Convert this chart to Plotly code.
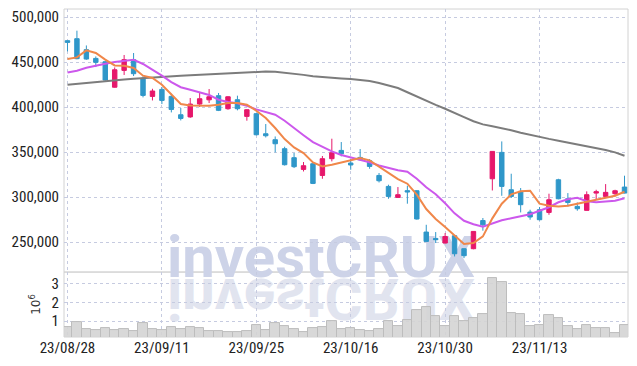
import plotly.graph_objects as go

dates = ["2023-08-28", "2023-08-29", "2023-08-30", "2023-08-31", "2023-09-01",
         "2023-09-04", "2023-09-05", "2023-09-06", "2023-09-07", "2023-09-08",
         "2023-09-11", "2023-09-12", "2023-09-13", "2023-09-14", "2023-09-15",
         "2023-09-18", "2023-09-19", "2023-09-20", "2023-09-21", "2023-09-22",
         "2023-09-25", "2023-09-26", "2023-09-27", "2023-10-04", "2023-10-05",
         "2023-10-06", "2023-10-10", "2023-10-11", "2023-10-12", "2023-10-13",
         "2023-10-16", "2023-10-17", "2023-10-18", "2023-10-19", "2023-10-20",
         "2023-10-23", "2023-10-24", "2023-10-25", "2023-10-26", "2023-10-27",
         "2023-10-30", "2023-10-31", "2023-11-01", "2023-11-02", "2023-11-03",
         "2023-11-06", "2023-11-07", "2023-11-08", "2023-11-09", "2023-11-10",
         "2023-11-13", "2023-11-14", "2023-11-15", "2023-11-16", "2023-11-17",
         "2023-11-20", "2023-11-21", "2023-11-22", "2023-11-23", "2023-11-24"]

opens = [473700, 475900, 463700, 454000, 450300, 422000, 440700, 452600, 432000, 411800,
         419600, 411800, 391400, 389000, 403300, 408000, 412600, 398100, 408100, 389600,
         392600, 370300, 363700, 353700, 343700, 330700, 337000, 324000, 342600, 351800,
         337800, 344000, 340300, 324000, 311800, 299600, 307100, 307000, 261100, 254000,
         248900, 257000, 242600, 242600, 273900, 320300, 349600, 308100, 306300, 283300,
         285900, 282900, 319200, 298100, 289600, 285200, 304400, 300700, 303700, 311100]
highs = [473700, 484800, 468400, 456200, 451000, 444000, 457800, 460000, 434000, 420300,
         422200, 414800, 398900, 410000, 416000, 420000, 415600, 412000, 412600, 397500,
         393000, 381100, 367300, 355900, 348900, 338900, 338900, 345600, 364800, 361100,
         342600, 353300, 342200, 326700, 313700, 311100, 312600, 307500, 269200, 261100,
         260000, 257500, 243000, 262000, 276700, 351000, 361800, 325900, 310000, 285900,
         288900, 303700, 320300, 304400, 294000, 306300, 308100, 314400, 308100, 323700]
lows = [461800, 453000, 452500, 444400, 429000, 421500, 435600, 434400, 410700, 407300,
        403300, 394000, 385100, 388000, 400000, 404400, 395500, 397000, 396300, 384800,
        368500, 366200, 349600, 335000, 332200, 328400, 314400, 320300, 339600, 345200,
        330300, 340400, 331400, 316200, 298100, 298900, 292600, 275000, 250500, 248900,
        248500, 234000, 232200, 242000, 262600, 307300, 301400, 298900, 282900, 274800,
        274000, 280300, 297500, 289600, 284800, 285000, 297000, 299600, 300700, 304000]
closes = [471800, 453700, 453300, 449600, 430000, 441400, 452600, 437000, 412900, 417800,
          407300, 397300, 387300, 403300, 409200, 411400, 396300, 411400, 398100, 397000,
          369200, 368100, 359200, 335900, 333700, 334800, 315100, 342600, 349200, 348100,
          335600, 341500, 334000, 318100, 300700, 302600, 305600, 275600, 250700, 252600,
          256200, 237000, 234800, 261800, 269100, 350700, 311800, 300700, 291500, 277800,
          274800, 297000, 298100, 294000, 287000, 302600, 305900, 305200, 307000, 304400]

ma5 = [453300, 455100, 462900, 460000, 452600, 446200, 445900, 443300, 434800, 432200,
       424800, 413700, 403300, 401800, 401400, 401400, 402600, 404400, 404400, 402600,
       395900, 387800, 376700, 364400, 355100, 348900, 338400, 334000, 335900, 338100,
       340300, 343300, 340700, 334000, 326700, 320000, 314800, 302600, 286700, 275600,
       266700, 257000, 247800, 248900, 256300, 276300, 292600, 303000, 306400, 307000,
       292600, 290300, 289600, 290300, 292600, 295300, 297600, 299200, 301400, 305900]
ma20 = [438400, 440300, 443600, 446200, 448100, 450000, 451400, 452600, 447800, 441400,
        434800, 427600, 422000, 419200, 416400, 413400, 408100, 405600, 404100, 401400,
        397400, 394800, 391400, 384800, 376300, 368700, 361000, 355900, 350700, 346700,
        343900, 341800, 338600, 335100, 332200, 329800, 328100, 320300, 310800, 303100,
        293100, 281900, 273600, 269800, 267000, 270300, 274200, 276400, 278700, 280900,
        284800, 288700, 294200, 297600, 299200, 295300, 294200, 294800, 295900, 298700]
ma120 = [424800, 425900, 427000, 427900, 428900, 429800, 430700, 431400, 432200, 433000,
         433700, 434300, 434800, 435200, 435700, 436100, 436600, 437200, 438100, 438900,
         439400, 439400, 439100, 438100, 437000, 435700, 434200, 433200, 432300, 431700,
         431100, 430100, 428900, 426700, 424200, 421100, 416400, 411400, 406700, 402300,
         398100, 393100, 388700, 384200, 380700, 378700, 376700, 374200, 371400, 368900,
         366700, 364600, 362600, 360600, 358700, 356800, 354600, 352200, 349600, 345900]

volume_millions = [0.68, 0.96, 0.59, 0.52, 0.63, 0.54, 0.57, 0.48, 0.91, 0.59,
                   0.52, 0.68, 0.59, 0.68, 0.63, 0.48, 0.48, 0.38, 0.43, 0.48,
                   0.80, 0.54, 0.91, 0.75, 0.59, 0.38, 0.63, 0.70, 1.00, 0.57,
                   0.63, 0.52, 0.46, 0.57, 1.00, 0.73, 1.05, 1.59, 1.75, 1.27,
                   0.73, 1.27, 1.00, 1.16, 1.39, 3.30, 3.09, 1.43, 1.38, 0.73,
                   0.79, 1.32, 1.16, 0.73, 0.57, 0.79, 0.63, 0.63, 0.36, 0.79]

tick_dates = ["2023-08-28", "2023-09-11", "2023-09-25", "2023-10-16", "2023-10-30", "2023-11-13"]
tick_labels = ["23/08/28", "23/09/11", "23/09/25", "23/10/16", "23/10/30", "23/11/13"]
price_ticks = [250000, 300000, 350000, 400000, 450000, 500000]
volume_ticks = [1, 2, 3]
watermark = "investCRUX"

UP = "#e6176b"
DOWN = "#2f97c9"
GRID = "#c6cbe0"
BORDER = "#d2d2d2"
TXT = "#222222"
FONT = "Liberation Sans Narrow, Roboto Condensed, Arial Narrow, DejaVu Sans Condensed, sans-serif"

fig = go.Figure()

fig.add_trace(go.Bar(
    x=dates, y=volume_millions, xaxis="x", yaxis="y2",
    marker=dict(color="rgba(212,212,212,0.9)", line=dict(color="#bdbdbd", width=1)),
    showlegend=False, hoverinfo="skip"))

fig.add_trace(go.Candlestick(
    x=dates, open=opens, high=highs, low=lows, close=closes,
    xaxis="x", yaxis="y",
    increasing=dict(line=dict(color=UP, width=1), fillcolor=UP),
    decreasing=dict(line=dict(color=DOWN, width=1), fillcolor=DOWN),
    whiskerwidth=0, showlegend=False))

fig.add_trace(go.Scatter(x=dates, y=ma120, mode="lines", xaxis="x", yaxis="y",
                         line=dict(color="#7c7c7c", width=2), showlegend=False))
fig.add_trace(go.Scatter(x=dates, y=ma20, mode="lines", xaxis="x", yaxis="y",
                         line=dict(color="#cc58ec", width=2), showlegend=False))
fig.add_trace(go.Scatter(x=dates, y=ma5, mode="lines", xaxis="x", yaxis="y",
                         line=dict(color="#f0874a", width=2), showlegend=False))

fig.update_layout(
    width=637, height=366,
    margin=dict(l=64, r=9, t=9, b=29, autoexpand=False),
    paper_bgcolor="white", plot_bgcolor="rgba(0,0,0,0)",
    font=dict(family=FONT, size=15, color=TXT),
    bargap=0, boxgap=0.33,
    xaxis=dict(type="category", categoryorder="array", categoryarray=dates,
               range=[-0.37, 59.37], anchor="y2", automargin=False,
               tickvals=tick_dates, ticktext=tick_labels, ticks="",
               ticklabelstandoff=0,
               showgrid=True, gridcolor=GRID, griddash="dot", gridwidth=1,
               showline=False, zeroline=False, rangeslider=dict(visible=False),
               tickfont=dict(family=FONT, size=15, color=TXT)),
    yaxis=dict(domain=[0.198, 1], range=[216667, 508889], automargin=False,
               tickvals=price_ticks, tickformat=",d", ticks="",
               ticklabelstandoff=4,
               showgrid=True, gridcolor=GRID, griddash="dot", gridwidth=1,
               zeroline=False, showline=False,
               tickfont=dict(family=FONT, size=15, color=TXT)),
    yaxis2=dict(domain=[0, 0.198], range=[0.14, 3.64], automargin=False,
                tickvals=volume_ticks, ticks="", ticklabelstandoff=4,
                showgrid=True, gridcolor=GRID, griddash="dot", gridwidth=1,
                zeroline=False, showline=False,
                title=dict(text="10<sup>6</sup>", standoff=8,
                           font=dict(family="DejaVu Sans", size=12, color="#333333")),
                tickfont=dict(family=FONT, size=15, color=TXT)),
    shapes=[
        dict(type="rect", xref="paper", yref="paper", x0=0, x1=1, y0=0.198, y1=1,
             line=dict(color=BORDER, width=1), layer="below"),
        dict(type="rect", xref="paper", yref="paper", x0=0, x1=1, y0=0, y1=0.198,
             line=dict(color=BORDER, width=1), layer="below"),
    ],
    annotations=[
        dict(text="<b>" + watermark + "</b>", xref="paper", yref="paper",
             x=0.456, y=0.244, xanchor="center", yanchor="middle", showarrow=False,
             font=dict(family="Roboto", size=58, color="#cdd3e8")),
        dict(text="<b>" + watermark + "</b>", xref="paper", yref="paper",
             x=0.456, y=0.117, xanchor="center", yanchor="middle", showarrow=False,
             font=dict(family="Roboto", size=58, color="#e1e4ef")),
    ],
)

post = """
document.documentElement.style.margin = '0';
document.documentElement.style.padding = '0';
document.body.style.margin = '0';
document.body.style.padding = '0';
document.body.style.overflow = 'hidden';
var gd = document.getElementById('{plot_id}');
var anns = gd.querySelectorAll('g.annotation');
var cart = gd.querySelector('.cartesianlayer');
if (cart && anns.length >= 2) {
  var main = anns[0], refl = anns[anns.length - 1];
  cart.parentNode.insertBefore(refl, cart);
  cart.parentNode.insertBefore(main, cart);
  var bb = refl.getBBox();
  var cy = bb.y + bb.height / 2;
  refl.setAttribute('transform', 'translate(0,' + (2 * cy) + ') scale(1,-1)');
}
"""

fig.write_html("out.html", post_script=post, config={"displayModeBar": False})
